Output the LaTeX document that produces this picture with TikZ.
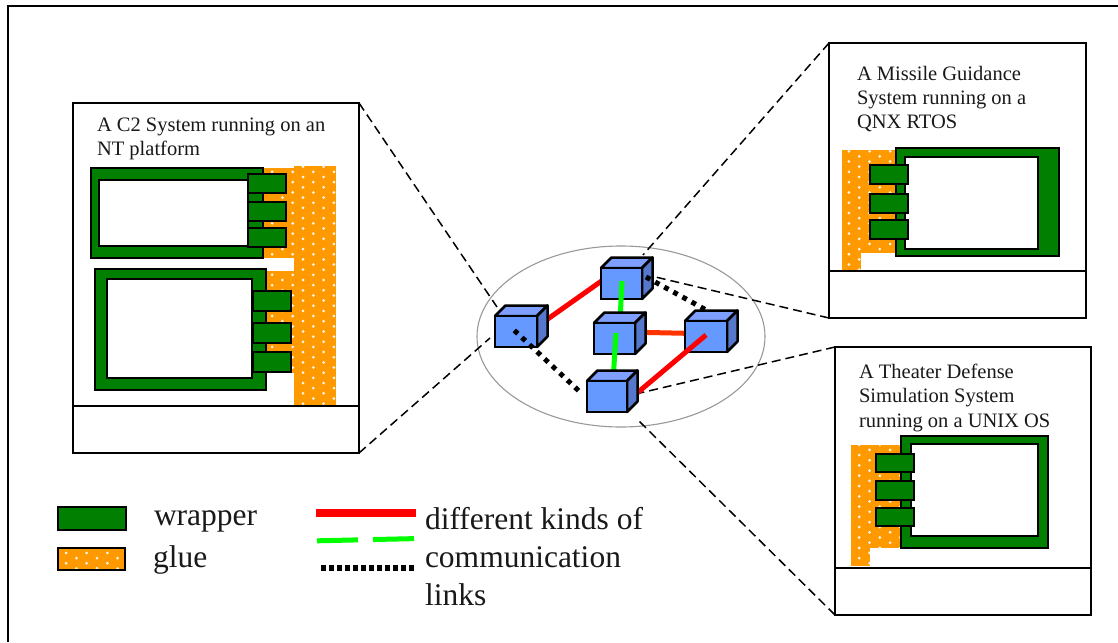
\documentclass[tikz,border=0pt]{standalone}
\usepackage{fontspec}
\setmainfont{Liberation Serif}
\definecolor{wrapgreen}{HTML}{007F00}
\definecolor{glueorange}{HTML}{FF9900}
\definecolor{cubeblue}{HTML}{6699FF}
\definecolor{cubetop}{HTML}{7F9FFF}
\definecolor{cubeside}{HTML}{5578CC}
\definecolor{linkorange}{HTML}{FF3300}
\definecolor{linkgreen}{HTML}{00FF00}
\tikzset{
  boxbase/.style={rectangle,inner sep=0pt,outer sep=0pt,anchor=north west},
  sysbox/.style={boxbase,draw=black,line width=1.5pt,fill=white},
  wrapbox/.style={boxbase,draw=black,line width=1.3pt,fill=wrapgreen},
  whitebox/.style={boxbase,draw=black,line width=1.5pt,fill=white},
  tabbox/.style={boxbase,draw=black,line width=1.6pt,fill=wrapgreen},
  cubefront/.style={boxbase,draw=black,line width=2.5pt,fill=cubeblue},
  cubeface/.style={draw=black,line width=2.5pt,line join=round},
  sysline/.style={line width=1.5pt,black},
  leader/.style={line width=1.5pt,black,dash pattern=on 9pt off 5pt},
  linkred/.style={line width=5pt,red},
  linkor/.style={line width=5pt,linkorange},
  linkgr/.style={line width=5pt,linkgreen},
  linkdot/.style={line width=5pt,black,dash pattern=on 4.8pt off 5.6pt},
  smalltext/.style={anchor=north west,inner sep=0pt,outer sep=0pt,align=left,font=\fontsize{20.5}{24.3}\selectfont,text=black!90},
  bigtext/.style={anchor=base west,inner sep=0pt,outer sep=0pt,font=\fontsize{31.5}{38}\selectfont,text=black!90},
}
% named rectangle node given by its corners
\newcommand{\rectnode}[6]{%
  \pgfmathsetmacro\rw{#5-#3}\pgfmathsetmacro\rh{#6-#4}%
  \node[#1,minimum width=\rw pt,minimum height=\rh pt] (#2) at (#3,#4) {};}
% dotted glue area
\newcommand{\gluerect}[4]{%
  \fill[glueorange] (#1,#2) rectangle (#3,#4);
  \begin{scope}
    \clip (#1,#2) rectangle (#3,#4);
    \pgfmathtruncatemacro\ia{floor((#1-303)/10.3)}
    \pgfmathtruncatemacro\ib{ceil((#3-303)/10.3)}
    \pgfmathtruncatemacro\ja{floor((#2-166.7)/10.3)-1}
    \pgfmathtruncatemacro\jb{ceil((#4-166.7)/10.3)+1}
    \foreach \i in {\ia,...,\ib}{
      \foreach \j in {\ja,...,\jb}{
        \pgfmathsetmacro\cx{303+10.3*\i}
        \pgfmathsetmacro\cy{166.7+10.3*\j+5.15*mod(abs(\i),2)}
        \fill[white!92!glueorange] (\cx,\cy) circle (1.5pt);
      }
    }
  \end{scope}}
% cube: front face is a named node
\newcommand{\cube}[5]{%
  \fill[cubetop,cubeface] (#2,#3) -- ++(10.5,-10.5) -- (#4+10.5,#3-10.5) -- (#4,#3) -- cycle;
  \fill[cubeside,cubeface] (#4,#3) -- (#4+10.5,#3-10.5) -- (#4+10.5,#5-10.5) -- (#4,#5) -- cycle;
  \rectnode{cubefront}{#1}{#2}{#3}{#4}{#5}}
\begin{document}
\begin{tikzpicture}[x=1pt,y=-1pt]
\useasboundingbox (0,0) rectangle (1118,642);
\fill[white] (0,0) rectangle (1118,642);
% outer frame
\coordinate (frameTR) at (1118,6);
\coordinate (frameTL) at (8,6);
\coordinate (frameBL) at (8,642);
\draw[line width=1.6pt] (frameTR) -- (frameTL) -- (frameBL);

% C2 system
\rectnode{sysbox}{c2}{73}{103}{359}{453}
\coordinate (c2divL) at (73,406); \coordinate (c2divR) at (359,406);
\gluerect{294}{166}{336}{406}
\gluerect{264}{168}{294}{258}
\gluerect{266}{271}{294}{373}
\draw[sysline] (c2divL) -- (c2divR);
\node[smalltext] (c2text) at (97,118) {A C2 System running on an\\NT platform};
\rectnode{wrapbox}{c2wa}{91}{168}{263}{258}
\rectnode{whitebox}{c2wai}{99}{180}{248}{246}
\rectnode{tabbox}{c2ta}{248}{174}{286}{193}
\rectnode{tabbox}{c2tb}{248}{202}{286}{221}
\rectnode{tabbox}{c2tc}{248}{228}{286}{247}
\rectnode{wrapbox}{c2wb}{95}{269}{266}{390}
\rectnode{whitebox}{c2wbi}{107}{279}{252}{378}
\rectnode{tabbox}{c2td}{253}{291}{291}{311}
\rectnode{tabbox}{c2te}{253}{323}{291}{343}
\rectnode{tabbox}{c2tf}{253}{352}{291}{372}

% Missile system
\rectnode{sysbox}{mg}{829}{43}{1086}{318}
\coordinate (mgdivL) at (829,271); \coordinate (mgdivR) at (1086,271);
\gluerect{842}{150}{861}{271}
\gluerect{842}{150}{896}{253}
\draw[sysline] (mgdivL) -- (mgdivR);
\node[smalltext] (mgtext) at (857,66) {A Missile Guidance\\System running on a\\QNX RTOS};
\rectnode{wrapbox}{mgw}{896}{148}{1059}{256}
\rectnode{whitebox}{mgwi}{905}{157}{1038}{249}
\rectnode{tabbox}{mgta}{870}{165}{908}{184}
\rectnode{tabbox}{mgtb}{870}{194}{908}{213}
\rectnode{tabbox}{mgtc}{870}{220}{908}{239}

% Theater system
\rectnode{sysbox}{td}{835}{347}{1091}{615}
\coordinate (tddivL) at (835,568); \coordinate (tddivR) at (1091,568);
\gluerect{851}{445}{870}{566}
\gluerect{851}{445}{901}{548}
\draw[sysline] (tddivL) -- (tddivR);
\node[smalltext] (tdtext) at (859,364) {A Theater Defense\\Simulation System\\running on a UNIX OS};
\rectnode{wrapbox}{tdw}{901}{436}{1048}{548}
\rectnode{whitebox}{tdwi}{911}{444}{1038}{536}
\rectnode{tabbox}{tdta}{876}{454}{914}{472}
\rectnode{tabbox}{tdtb}{876}{481}{914}{500}
\rectnode{tabbox}{tdtc}{876}{508}{914}{526}

% Network ellipse
\coordinate (netc) at (621,336.5);
\draw[line width=1.1pt,black!40] (netc) ellipse [x radius=144,y radius=90.5];

% leader lines end points
\coordinate (lA) at (497,307);
\coordinate (lB) at (490,338);
\coordinate (lC) at (643,255);
\coordinate (lD) at (647,275);
\coordinate (lE) at (640,393);
\coordinate (lF) at (638,420);
\draw[leader] (c2.north east) -- (lA);
\draw[leader] (c2.south east) -- (lB);
\draw[leader] (mg.north west) -- (lC);
\draw[leader] (mg.south west) -- (lD);
\draw[leader] (td.north west) -- (lE);
\draw[leader] (td.south west) -- (lF);

% links behind every cube
\coordinate (rAa) at (535,328); \coordinate (rAb) at (610,275);
\coordinate (oAa) at (625,332); \coordinate (oAb) at (695,333.5);
\draw[linkred] (rAa) -- (rAb);
\draw[linkor] (oAa) -- (oAb);
% first cubes
\cube{cubeL}{495}{316}{537}{347}
\cube{cubeT}{601}{268}{642}{299}
% links lying over the first cubes
\coordinate (gAa) at (622,281); \coordinate (gAb) at (619.8,325);
\coordinate (dTa) at (646,277); \coordinate (dTb) at (708,311);
\coordinate (dLa) at (514.3,330.4); \coordinate (dLb) at (580,392);
\draw[linkgr] (gAa) -- (gAb);
\draw[linkdot] (dTa) -- (dTb);
\draw[linkdot] (dLa) -- (dLb);
% second cubes
\cube{cubeM}{594}{323}{635}{354}
\cube{cubeR}{685}{321}{727}{352}
% links over those
\coordinate (gBa) at (616,333); \coordinate (gBb) at (612.8,385);
\coordinate (rBa) at (706,335); \coordinate (rBb) at (630,399);
\draw[linkgr] (gBa) -- (gBb);
\draw[linkred] (rBa) -- (rBb);
\cube{cubeB}{587}{381}{627}{412}

% Legend
\rectnode{wrapbox}{legw}{58}{507}{126}{530}
\gluerect{58}{548}{125}{570}
\rectnode{boxbase,draw=black,line width=1.2pt}{legg}{58}{548}{125}{570}
\node[bigtext] (twrap) at (154,525) {wrapper};
\node[bigtext] (tglue) at (153,567) {glue};
\coordinate (lrA) at (316,513); \coordinate (lrB) at (415.5,513);
\coordinate (lgA) at (317,540.8); \coordinate (lgB) at (415,538.6);
\coordinate (ldA) at (321,568); \coordinate (ldB) at (415,568);
\draw[line width=7.5pt,red] (lrA) -- (lrB);
\draw[line width=5pt,linkgreen,dash pattern=on 41pt off 15pt] (lgA) -- (lgB);
\draw[line width=5.5pt,black,dash pattern=on 5pt off 3pt] (ldA) -- (ldB);
\node[bigtext] (tdiff) at (425,529) {different kinds of};
\node[bigtext] (tcomm) at (425,567) {communication};
\node[bigtext] (tlink) at (425,605) {links};
\end{tikzpicture}
\end{document}
